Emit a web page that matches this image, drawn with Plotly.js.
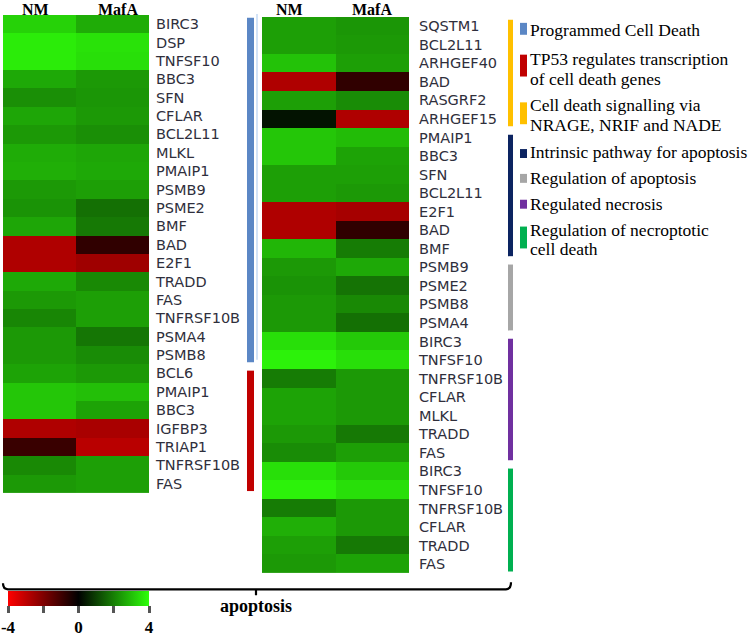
<!DOCTYPE html>
<html>
<head>
<meta charset="utf-8">
<script src="https://cdn.plot.ly/plotly-3.0.1.min.js"></script>
<style>html,body{margin:0;padding:0;background:#fff;}#chart{width:748px;height:638px;}</style>
</head>
<body>
<div id="chart"></div>
<script>
// ---------- DATA ----------
const conditions = ['NM', 'MafA'];

const leftGenes = ['BIRC3','DSP','TNFSF10','BBC3','SFN','CFLAR','BCL2L11','MLKL','PMAIP1','PSMB9','PSME2','BMF','BAD','E2F1','TRADD','FAS','TNFRSF10B','PSMA4','PSMB8',
                   'BCL6','PMAIP1','BBC3','IGFBP3','TRIAP1','TNFRSF10B','FAS'];
const leftNM   = [3.3,3.7,3.7,2.65,2.25,2.6,2.4,2.7,2.75,2.4,2.3,2.6,-2.75,-2.75,2.65,2.4,2.1,2.4,2.4,
                  2.55,3.1,3.1,-2.75,-0.9,2.15,2.4];
const leftMafA = [2.7,3.55,3.5,2.4,2.35,2.4,2.25,2.6,2.65,2.5,1.75,1.9,-0.75,-2.5,2.15,2.5,2.5,1.85,2.2,
                  2.4,3.0,2.55,-2.65,-2.9,2.5,2.5];
const leftGroupNames = ['Programmed Cell Death','TP53 regulates transcription of cell death genes'];
const leftGroupSizes = [19, 7];

const rightGenes = ['SQSTM1','BCL2L11','ARHGEF40','BAD','RASGRF2','ARHGEF15',
                    'PMAIP1','BBC3','SFN','BCL2L11','E2F1','BAD','BMF',
                    'PSMB9','PSME2','PSMB8','PSMA4',
                    'BIRC3','TNFSF10','TNFRSF10B','CFLAR','MLKL','TRADD','FAS',
                    'BIRC3','TNFSF10','TNFRSF10B','CFLAR','TRADD','FAS'];
const rightNM   = [2.5,2.5,3.05,-2.75,2.5,0.3,
                   3.1,3.1,2.5,2.5,-2.75,-2.75,2.85,
                   2.4,2.3,2.4,2.4,
                   3.5,3.8,1.95,2.55,2.55,2.4,2.2,
                   3.5,3.8,1.95,2.75,2.5,2.4];
const rightMafA = [2.35,2.4,2.5,-0.75,2.2,-2.75,
                   2.95,2.55,2.5,2.4,-2.6,-0.75,1.95,
                   2.65,1.8,2.15,1.75,
                   3.15,3.5,2.4,2.4,2.4,1.9,2.5,
                   3.15,3.5,2.4,2.4,1.9,2.55];
const rightGroupNames = ['Cell death signalling via NRAGE, NRIF and NADE','Intrinsic pathway for apoptosis','Regulation of apoptosis','Regulated necrosis','Regulation of necroptotic cell death'];
const rightGroupSizes = [6, 7, 4, 7, 6];

const legendLines = [
  ['Programmed Cell Death'],
  ['TP53 regulates transcription','of cell death genes'],
  ['Cell death signalling via','NRAGE, NRIF and NADE'],
  ['Intrinsic pathway for apoptosis'],
  ['Regulation of apoptosis'],
  ['Regulated necrosis'],
  ['Regulation of necroptotic','cell death']
];
const colorbarTicks = [-4, -2, 0, 2, 4];
const colorbarTickText = ['-4', '', '0', '', '4'];
const bracketLabel = 'apoptosis';

// ---------- STYLE ----------
const W = 748, H = 638;
const px = x => x / W;
const py = y => 1 - y / H;
const groupColors = {
  'Programmed Cell Death': '#5b87c5',
  'TP53 regulates transcription of cell death genes': '#c00000',
  'Cell death signalling via NRAGE, NRIF and NADE': '#ffc000',
  'Intrinsic pathway for apoptosis': '#0c2461',
  'Regulation of apoptosis': '#a6a6a6',
  'Regulated necrosis': '#7030a0',
  'Regulation of necroptotic cell death': '#00b050'
};
const legendOrder = ['Programmed Cell Death','TP53 regulates transcription of cell death genes','Cell death signalling via NRAGE, NRIF and NADE','Intrinsic pathway for apoptosis','Regulation of apoptosis','Regulated necrosis','Regulation of necroptotic cell death'];
const colorscale = [[0,'rgb(255,0,0)'],[0.5,'rgb(0,0,0)'],[1,'rgb(46,255,10)']];
const serif = 'Liberation Serif, Times New Roman, serif';
const sans = 'DejaVu Sans, sans-serif';

const zip = (a, b) => a.map((v, i) => [v, b[i]]);
const idx = arr => arr.map((_, i) => i);

const traces = [
  {
    type: 'heatmap', x: conditions, y: idx(leftGenes), z: zip(leftNM, leftMafA),
    xaxis: 'x', yaxis: 'y', zmin: -4, zmax: 4, colorscale: colorscale,
    showscale: true, hoverinfo: 'skip',
    colorbar: {
      orientation: 'h', x: px(8), xanchor: 'left', y: py(595), yanchor: 'top',
      len: 141, lenmode: 'pixels', thickness: 15, thicknessmode: 'pixels',
      xpad: 0, ypad: 0, outlinewidth: 0,
      tickmode: 'array', tickvals: colorbarTicks, ticktext: colorbarTickText,
      ticks: 'outside', ticklen: 7, tickwidth: 3, tickcolor: '#555',
      ticklabeloverflow: 'allow',
      tickfont: {family: serif, size: 17, color: '#000', weight: 'bold'}
    }
  },
  {
    type: 'heatmap', x: conditions, y: idx(rightGenes), z: zip(rightNM, rightMafA),
    xaxis: 'x2', yaxis: 'y2', zmin: -4, zmax: 4, colorscale: colorscale,
    showscale: false, hoverinfo: 'skip'
  }
];

const xCommon = {
  side: 'top', showgrid: false, zeroline: false, ticks: '', showline: false,
  showticklabels: false, fixedrange: true
};
const yCommon = {
  side: 'right', showgrid: false, zeroline: false, ticks: '', showline: false,
  tickfont: {family: sans, size: 14.5, color: '#2f2f3c'}, tickmode: 'array',
  fixedrange: true
};

const shapes = [];
const annotations = [];

// column headers placed on the category axes
const headerShift = {x: [-4, 5], x2: [-9, 0]};
['x', 'x2'].forEach(ax => {
  conditions.forEach((c, i) => {
    annotations.push({xref: ax, yref: 'paper', x: c, y: py(9.5), xanchor: 'center', yanchor: 'middle',
      xshift: headerShift[ax][i], showarrow: false, text: c,
      font: {family: serif, size: 16, color: '#000', weight: 'bold'}});
  });
});

function groupBars(sizes, names, yref, x0, x1) {
  let start = -0.5;
  sizes.forEach((n, i) => {
    const end = start + n;
    shapes.push({type: 'rect', xref: 'paper', yref: yref,
      x0: px(x0), x1: px(x1), y0: start + (i === 0 ? 0.15 : 0.35), y1: end - 0.1,
      fillcolor: groupColors[names[i]], line: {width: 0}});
    start = end;
  });
}
groupBars(leftGroupSizes, leftGroupNames, 'y', 247, 254);
groupBars(rightGroupSizes, rightGroupNames, 'y2', 508, 513);

// faint frame artifact between panels
shapes.push({type: 'line', xref: 'paper', yref: 'paper', x0: px(257), x1: px(257), y0: py(14), y1: py(362),
  line: {color: '#d3e3f7', width: 2}});

// legend
const legendY = [[30.5],[59,79],[106,126],[153],[179],[205],[231,251]];
const legendBox = [[23,35],[55,77],[103,125],[150,159],[175,184],[201,210],[228,250]];
legendOrder.forEach((g, i) => {
  shapes.push({type: 'rect', xref: 'paper', yref: 'paper', x0: px(520), x1: px(527),
    y0: py(legendBox[i][1]), y1: py(legendBox[i][0]), fillcolor: groupColors[g], line: {width: 0}});
  legendLines[i].forEach((t, j) => {
    annotations.push({xref: 'paper', yref: 'paper', x: px(528), y: py(legendY[i][j]),
      xanchor: 'left', yanchor: 'middle', showarrow: false, text: t,
      font: {family: serif, size: 17.5, color: '#000'}});
  });
});

// bracket
const bracketPath = 'M ' + px(3) + ' ' + py(587) + ' Q ' + px(3) + ' ' + py(593) + ' ' + px(8) + ' ' + py(593) +
  ' L ' + px(506) + ' ' + py(593) + ' Q ' + px(511) + ' ' + py(593) + ' ' + px(511) + ' ' + py(586) +
  ' M ' + px(256) + ' ' + py(593) + ' L ' + px(256) + ' ' + py(599);
shapes.push({type: 'path', xref: 'paper', yref: 'paper', path: bracketPath, line: {color: '#000', width: 2.2}});
annotations.push({xref: 'paper', yref: 'paper', x: px(256), y: py(610), xanchor: 'center', yanchor: 'middle',
  showarrow: false, text: bracketLabel, font: {family: serif, size: 18, color: '#000', weight: 'bold'}});

const layout = {
  width: W, height: H, margin: {l: 0, r: 0, t: 0, b: 0},
  paper_bgcolor: '#fff', plot_bgcolor: '#fff', showlegend: false,
  xaxis: Object.assign({}, xCommon, {domain: [px(3), px(149)], anchor: 'y'}),
  yaxis: Object.assign({}, yCommon, {domain: [py(496), py(15)], anchor: 'x', ticklabelstandoff: 6,
    range: [leftGenes.length - 0.5, -0.5], tickvals: idx(leftGenes), ticktext: leftGenes}),
  xaxis2: Object.assign({}, xCommon, {domain: [px(262), px(409)], anchor: 'y2'}),
  yaxis2: Object.assign({}, yCommon, {domain: [py(577), py(17)], anchor: 'x2', ticklabelstandoff: 9,
    range: [rightGenes.length - 0.5, -0.5], tickvals: idx(rightGenes), ticktext: rightGenes}),
  shapes: shapes, annotations: annotations
};

Plotly.newPlot('chart', traces, layout, {displayModeBar: false, staticPlot: true});
</script>
</body>
</html>
